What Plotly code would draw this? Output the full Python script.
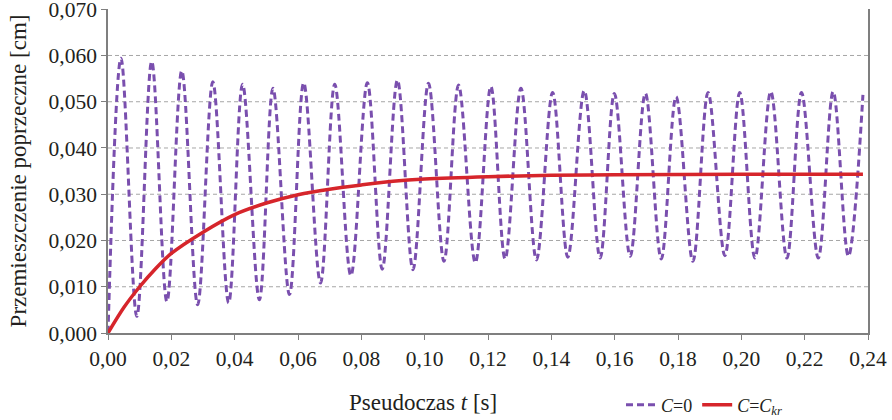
import plotly.graph_objects as go

# C=0 oscillation: alternating extrema (time [s], displacement [cm])
peak_t = [0.0041, 0.0138, 0.0233, 0.0331, 0.0425, 0.0521, 0.0618, 0.0716, 0.0819, 0.0914,
          0.1012, 0.1107, 0.1209, 0.1304, 0.1404, 0.1504, 0.1599, 0.1697, 0.1794, 0.1895,
          0.1995, 0.2093, 0.2190, 0.2290]
peak_y = [0.0594, 0.0587, 0.0567, 0.0543, 0.0538, 0.0529, 0.0541, 0.0538, 0.0541, 0.0547,
          0.0540, 0.0536, 0.0533, 0.0529, 0.0520, 0.0524, 0.0518, 0.0518, 0.0511, 0.0520,
          0.0520, 0.0522, 0.0520, 0.0522]
trough_t = [0.0091, 0.0186, 0.0283, 0.0381, 0.0478, 0.0573, 0.0671, 0.0767, 0.0866, 0.0963,
            0.1061, 0.1160, 0.1254, 0.1353, 0.1452, 0.1554, 0.1649, 0.1747, 0.1847, 0.1948,
            0.2043, 0.2144, 0.2243, 0.2338]
trough_y = [0.0036, 0.0068, 0.0061, 0.0065, 0.0072, 0.0083, 0.0108, 0.0124, 0.0138, 0.0137,
            0.0155, 0.0152, 0.0160, 0.0158, 0.0164, 0.0162, 0.0166, 0.0160, 0.0155, 0.0167,
            0.0162, 0.0162, 0.0162, 0.0166]
start_t, start_y = 0.0, 0.0
end_t, end_y = 0.2384, 0.0515

# C=C_kr curve
red_t = [0.0, 0.005, 0.01, 0.015, 0.02, 0.03, 0.04, 0.05, 0.06, 0.07, 0.08, 0.09,
         0.10, 0.12, 0.14, 0.16, 0.20, 0.2384]
red_y = [0.0, 0.0055, 0.0100, 0.0139, 0.0172, 0.0218, 0.0256, 0.0281, 0.0299, 0.0311,
         0.0320, 0.0328, 0.0333, 0.0338, 0.0341, 0.0342, 0.0343, 0.0343]

x_ticks = [0.00, 0.02, 0.04, 0.06, 0.08, 0.10, 0.12, 0.14, 0.16, 0.18, 0.20, 0.22, 0.24]
y_ticks = [0.000, 0.010, 0.020, 0.030, 0.040, 0.050, 0.060, 0.070]
y_grid = [0.010, 0.020, 0.030, 0.040, 0.050, 0.060]

osc_t = [start_t]
osc_y = [start_y]
for pt, py, tt, ty in zip(peak_t, peak_y, trough_t, trough_y):
    osc_t += [pt, tt]
    osc_y += [py, ty]
osc_t.append(end_t)
osc_y.append(end_y)

fig = go.Figure()
fig.add_trace(go.Scatter(
    x=osc_t, y=osc_y, mode="lines", name="<i>C</i>=0",
    line=dict(color="#7a4fae", width=3, dash="7px,4px", shape="spline", smoothing=1.0),
))
fig.add_trace(go.Scatter(
    x=red_t, y=red_y, mode="lines", name="<i>C</i>=<i>C</i><sub><i>kr</i></sub>",
    line=dict(color="#d6252b", width=3.5, shape="spline", smoothing=0.8),
))

# dashed horizontal gridlines (drawn below traces)
for g in y_grid:
    fig.add_shape(type="line", xref="paper", x0=0, x1=1, yref="y", y0=g, y1=g,
                  line=dict(color="#a6a6a6", width=1, dash="4px,3px"), layer="below")

font_family = "Liberation Serif, DejaVu Serif, serif"
fig.update_layout(
    width=892, height=420, autosize=False,
    margin=dict(l=108, r=24, t=9, b=87, autoexpand=False),
    paper_bgcolor="white", plot_bgcolor="white",
    separators=",.",
    font=dict(family=font_family, size=21, color="#231f20"),
    showlegend=True,
    legend=dict(orientation="h", x=0.675, y=-0.222, xanchor="left", yanchor="middle",
                font=dict(size=18), bgcolor="rgba(0,0,0,0)", itemwidth=30,
                tracegroupgap=0),
    xaxis=dict(
        range=[0, 0.24], tickvals=x_ticks, tickformat=".2f",
        showgrid=False, zeroline=False, automargin=False,
        showline=True, linecolor="#7f7f7f", linewidth=1.5,
        ticks="outside", ticklen=5, tickcolor="#7f7f7f",
        tickfont=dict(size=21.5), ticklabeloverflow="allow",
    ),
    yaxis=dict(
        range=[0, 0.07005], tickvals=y_ticks, tickformat=".3f",
        showgrid=False, zeroline=False, automargin=False,
        showline=True, linecolor="#7f7f7f", linewidth=1.5, mirror=True,
        ticks="outside", ticklen=5, tickcolor="#7f7f7f",
        tickfont=dict(size=21.5), ticklabeloverflow="allow",
        title=dict(text="Przemieszczenie poprzeczne [cm]", font=dict(size=23), standoff=16),
    ),
    annotations=[dict(
        text="Pseudoczas <i>t</i> [s]", xref="paper", yref="paper",
        x=0.415, y=-0.216, xanchor="center", yanchor="middle", showarrow=False,
        font=dict(size=23),
    )],
)

page_fix = (
    "var d=document.documentElement, b=document.body;"
    "d.style.margin='0'; d.style.padding='0'; d.style.overflow='hidden';"
    "b.style.margin='0'; b.style.padding='0'; b.style.overflow='hidden';"
)

fig.write_html(
    "out.html",
    config={"displayModeBar": False, "responsive": False},
    post_script=page_fix,
)
